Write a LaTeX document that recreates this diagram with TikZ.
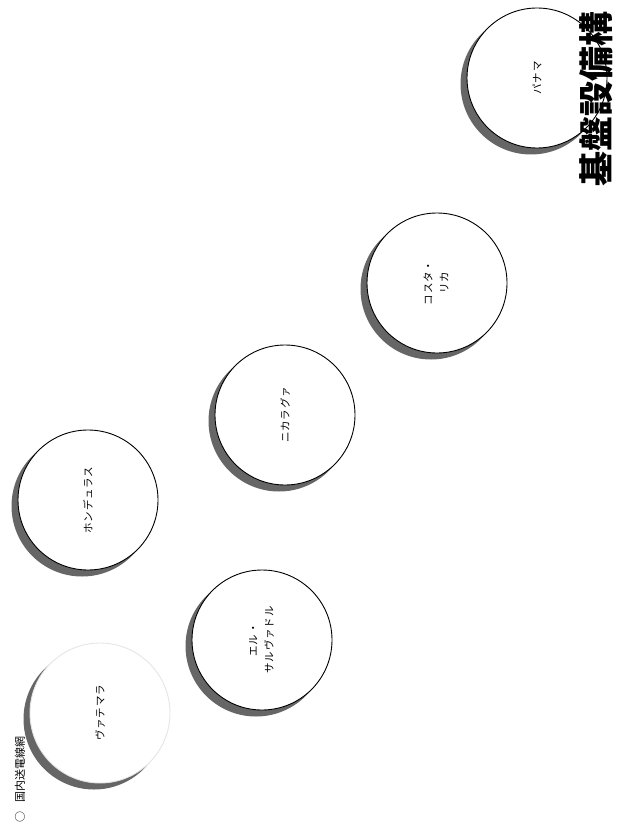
\documentclass[tikz,border=0pt]{standalone}
\usepackage{fontspec}
\newfontfamily\jp{Noto Sans CJK JP}
\newfontfamily\jpl[LetterSpace=8]{Noto Sans CJK JP}
\usetikzlibrary{backgrounds}
\tikzset{
  country/.style={circle, draw=black, line width=0.9pt, fill=white, minimum size=140pt, inner sep=0pt,
    font=\jpl\fontsize{10.5}{16}\selectfont},
  shad/.style={fill=black!60},
}
\begin{document}
\begin{tikzpicture}[x=1pt,y=1pt]
\path[use as bounding box] (0,0) rectangle (622,-834);
\node[country, draw=black!10] (gt) at (100,-713) {\rotatebox{90}{ヴァテマラ}};
\node[country] (hn) at (88,-500) {\rotatebox{90}{ホンデュラス}};
\node[country] (sv) at (262,-640) {\rotatebox{90}{\begin{tabular}{@{}c@{}}エル・\\サルヴァドル\end{tabular}}};
\node[country] (ni) at (285,-415) {\rotatebox{90}{ニカラグァ}};
\node[country] (cr) at (437,-283) {\rotatebox{90}{\begin{tabular}{@{}c@{}}コスタ・\\リカ\end{tabular}}};
\node[country] (pa) at (537,-78) {\rotatebox{90}{パナマ}};
\begin{scope}[on background layer]
\foreach \n in {gt,hn,sv,ni,cr,pa}
  \fill[shad] ([shift={(-6,-6)}]\n.center) circle (70.5);
\end{scope}
\node[rotate=90, anchor=west, inner sep=0pt, font=\jp\fontsize{11}{13}\selectfont] (legend) at (20,-823) {○\hspace{9pt}国内送電線網};
\node[rotate=90, anchor=west, inner sep=0pt, font=\jp\bfseries\fontsize{35}{35}\selectfont] (title) at (596,-187) {基盤設備構};
\end{tikzpicture}
\end{document}
